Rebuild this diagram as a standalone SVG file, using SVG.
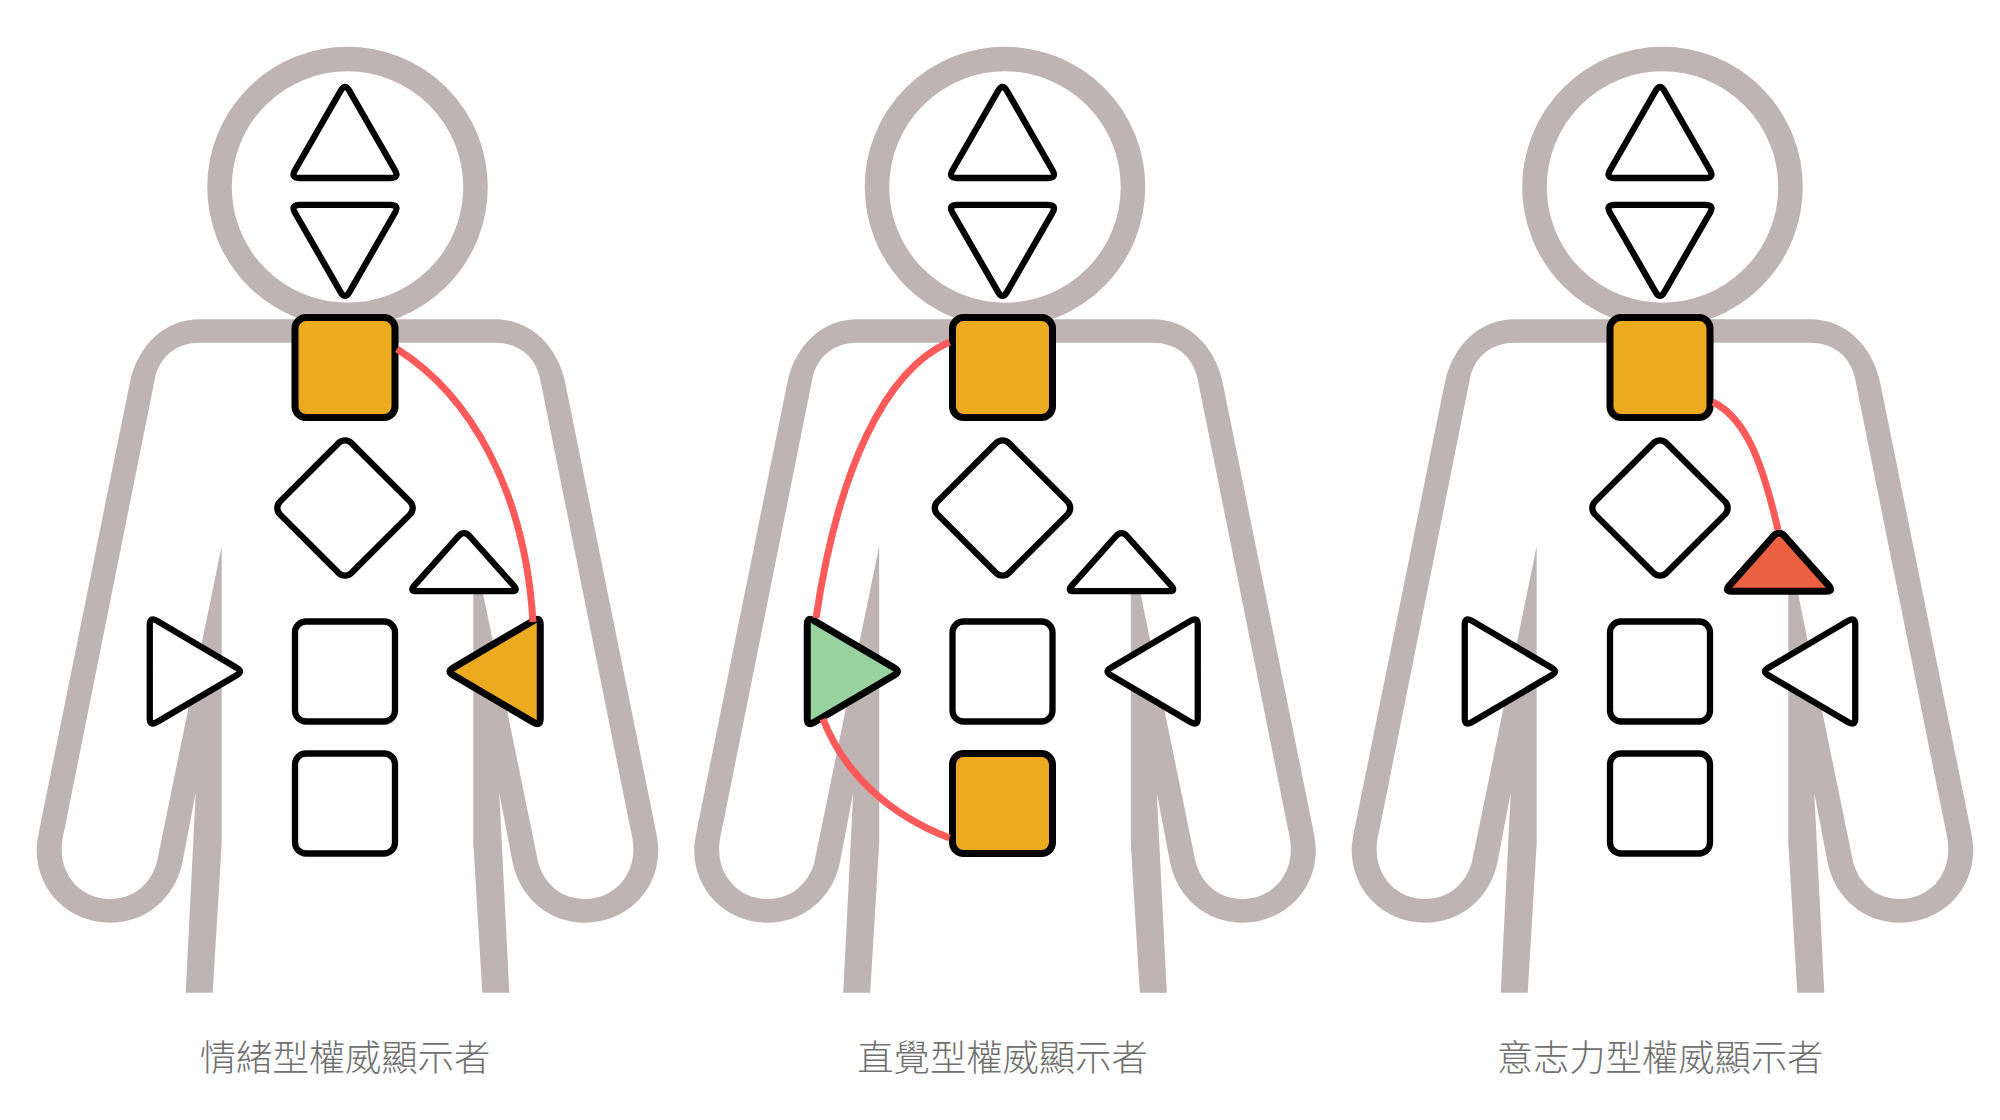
<svg xmlns="http://www.w3.org/2000/svg" width="2000" height="1120" viewBox="0 0 2000 1120">
<style>
.head{fill:none;stroke:#bfb3b3;stroke-width:24.500}
.body{fill:#bfb3b3;stroke:none}
.n{fill:#fff;stroke:#000;stroke-width:6.300;stroke-linejoin:round}
.gold{fill:#ebaa1f;stroke-width:7}
.green{fill:#98d29f;stroke-width:7}
.red{fill:#ea6040;stroke-width:7}
.c{fill:none;stroke:#ff5a5a;stroke-width:7}
.t{font-family:"Noto Sans CJK TC","Noto Sans CJK SC",sans-serif;font-size:36.300px;font-weight:300;fill:#707070;text-anchor:middle}
</style>
<defs>
<path id="half" class="body" d="M2.500 319.300L-145 319.300C-180 319.300-207 345-215 381.700L-305.700 830C-307.500 840-308.300 845-308.300 850C-308.300 892-275 922.700-235 922.700C-198 922.700-170 897-162.700 863L-149.300 793L-159.300 992.700L-132.300 992.700L-123.300 843L-123.300 546L-188.300 863C-195 885-212 899-235 899C-263 899-283.300 877-283.300 850C-283.300 842-282.500 838-280 826.700L-190 378.300C-185 355-167 342.700-145 342.700L2.500 342.700Z"/>
<g id="figure">
<circle class="head" cx="2.500" cy="187" r="128"/>
<use href="#half"/>
<use href="#half" transform="translate(5 0) scale(-1 1)"/>
</g>
<path id="up" d="M4.500 91L50 170.200Q54.500 178 45.500 178L-45.500 178Q-54.500 178-50 170.200L-4.500 91Q0 83 4.500 91Z"/>
<path id="down" d="M4.500 291.900L50 212.700Q54.500 204.900 45.500 204.900L-45.500 204.900Q-54.500 204.900-50 212.700L-4.500 291.900Q0 299.900 4.500 291.900Z"/>
<path id="small" d="M5.900 536.500L49.900 585.900Q54.500 591.200 47.500 591.200L-47.500 591.200Q-54.500 591.200-49.900 585.900L-5.900 536.500Q0 529.700 5.900 536.500Z"/>
<path id="side" d="M-108 668Q-102 671.500-108 675L-188.350 722.300Q-195.250 726.400-195.250 718.400L-195.250 624.600Q-195.250 616.600-188.350 620.660Z"/>
<rect id="sq" x="-50" y="-50" width="100" height="100" rx="11"/>
<rect id="dia" x="-50.500" y="-50.500" width="101" height="101" rx="9" transform="rotate(45)"/>
</defs>
<g id="panel1" transform="translate(345 0)">
<use href="#figure"/>
<g id="p1-crown"><use class="n" href="#up"/></g>
<g id="p1-ajna"><use class="n" href="#down"/></g>
<g id="p1-throat"><use class="n gold" href="#sq" y="367.500"/></g>
<g id="p1-g"><use class="n" href="#dia" y="508"/></g>
<g id="p1-ego"><use class="n" href="#small" x="119"/></g>
<g id="p1-spleen"><use class="n" href="#side"/></g>
<g id="p1-sacral"><use class="n" href="#sq" y="671.500"/></g>
<g id="p1-solar"><use class="n gold" href="#side" transform="scale(-1 1)"/></g>
<g id="p1-root"><use class="n" href="#sq" y="803.500"/></g>
<text class="t" x="0" y="1071">情緒型權威顯示者</text>
</g>
<g id="panel2" transform="translate(1002.500 0)">
<use href="#figure"/>
<g id="p2-crown"><use class="n" href="#up"/></g>
<g id="p2-ajna"><use class="n" href="#down"/></g>
<g id="p2-throat"><use class="n gold" href="#sq" y="367.500"/></g>
<g id="p2-g"><use class="n" href="#dia" y="508"/></g>
<g id="p2-ego"><use class="n" href="#small" x="119"/></g>
<g id="p2-spleen"><use class="n green" href="#side"/></g>
<g id="p2-sacral"><use class="n" href="#sq" y="671.500"/></g>
<g id="p2-solar"><use class="n" href="#side" transform="scale(-1 1)"/></g>
<g id="p2-root"><use class="n gold" href="#sq" y="803.500"/></g>
<text class="t" x="0" y="1071">直覺型權威顯示者</text>
</g>
<g id="panel3" transform="translate(1660 0)">
<use href="#figure"/>
<g id="p3-crown"><use class="n" href="#up"/></g>
<g id="p3-ajna"><use class="n" href="#down"/></g>
<g id="p3-throat"><use class="n gold" href="#sq" y="367.500"/></g>
<g id="p3-g"><use class="n" href="#dia" y="508"/></g>
<g id="p3-ego"><use class="n red" href="#small" x="119"/></g>
<g id="p3-spleen"><use class="n" href="#side"/></g>
<g id="p3-sacral"><use class="n" href="#sq" y="671.500"/></g>
<g id="p3-solar"><use class="n" href="#side" transform="scale(-1 1)"/></g>
<g id="p3-root"><use class="n" href="#sq" y="803.500"/></g>
<text class="t" x="0" y="1071">意志力型權威顯示者</text>
</g>
<g id="connectors">
<path class="c" d="M397 349C470 395 525 490 533 622"/>
<path class="c" d="M949.500 342C885 370 838 470 816 618"/>
<path class="c" d="M823 719C845 775 890 815 949.500 838"/>
<path class="c" d="M1713 402C1745 418 1762 460 1778 530"/>
</g>
</svg>
